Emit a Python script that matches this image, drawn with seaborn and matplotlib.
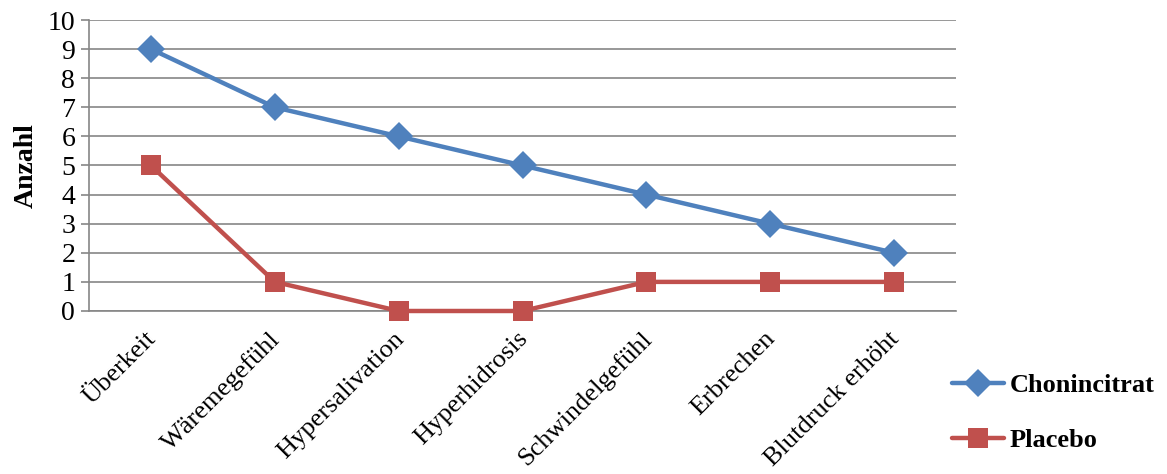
import numpy as np
import pandas as pd
import matplotlib
matplotlib.use("Agg")
import matplotlib.pyplot as plt
import matplotlib.transforms as mtransforms
import seaborn as sns

categories = ["Überkeit", "Wäremegefühl", "Hypersalivation", "Hyperhidrosis",
              "Schwindelgefühl", "Erbrechen", "Blutdruck erhöht"]
chonincitrat = [9, 7, 6, 5, 4, 3, 2]
placebo = [5, 1, 0, 0, 1, 1, 1]
series_names = ["Chonincitrat", "Placebo"]
y_ticks = list(range(0, 11))

df = pd.DataFrame({
    "Symptom": categories * 2,
    "Anzahl": chonincitrat + placebo,
    "Gruppe": [series_names[0]] * len(categories) + [series_names[1]] * len(categories),
})

sns.set_theme(style="white")
plt.rcParams["font.family"] = ["Liberation Serif", "DejaVu Serif"]
plt.rcParams["text.color"] = "black"
plt.rcParams["xtick.color"] = "black"
plt.rcParams["ytick.color"] = "black"
plt.rcParams["axes.labelcolor"] = "black"

fig = plt.figure(figsize=(11.67, 4.74), dpi=100)
ax = fig.add_axes([0.0763, 0.3439, 0.7429, 0.6139])

grid_col = "#868686"
palette = {"Chonincitrat": "#4F81BD", "Placebo": "#C0504D"}
markers = {"Chonincitrat": "D", "Placebo": "s"}
marker_sizes = [14, 15]

sns.lineplot(data=df, x="Symptom", y="Anzahl", hue="Gruppe", style="Gruppe",
             palette=palette, markers=markers, dashes=False, sort=False,
             linewidth=3.2, markersize=12, markeredgewidth=0, ax=ax, legend=False,
             zorder=3)
for line, ms in zip(ax.lines, marker_sizes):
    line.set_markersize(ms)
    line.set_clip_on(False)

n = len(categories)
ax.set_xlim(-0.5, n - 0.5)
ax.set_ylim(0, 10)
ax.set_yticks(y_ticks)
ax.set_yticklabels([str(v) for v in y_ticks], fontsize=20)
ax.yaxis.grid(True, color=grid_col, linewidth=1.2)
ax.set_axisbelow(True)

ax.set_xticks(range(n))
ax.set_xticklabels(categories, rotation=45, ha="right", rotation_mode="anchor",
                   fontsize=19)
ax.tick_params(axis="x", which="major", length=0, pad=12)
shift = mtransforms.ScaledTranslation(-6 / 100, 0, fig.dpi_scale_trans)
for lbl in ax.get_xticklabels():
    lbl.set_transform(lbl.get_transform() + shift)
ax.set_xticks(np.arange(-0.5, n, 1.0), minor=True)
ax.tick_params(axis="x", which="minor", length=6, width=1.2, color=grid_col,
               direction="out")
ax.tick_params(axis="y", length=6, width=1.2, color=grid_col, labelcolor="black",
               direction="out", pad=4, left=True)

for side in ["top", "right"]:
    ax.spines[side].set_visible(False)
for side in ["left", "bottom"]:
    ax.spines[side].set_color(grid_col)
    ax.spines[side].set_linewidth(1.2)

ax.set_xlabel("")
ax.set_ylabel("Anzahl", fontsize=20, fontweight="bold", labelpad=6)

handles = [
    plt.Line2D([], [], color=palette[s], marker=markers[s], linewidth=3.2,
               markersize=ms, markeredgewidth=0)
    for s, ms in zip(series_names, marker_sizes)
]
fig.legend(handles, series_names, loc="upper left", bbox_to_anchor=(0.795, 0.262),
           frameon=False, handlelength=2.0, handletextpad=0.2, labelspacing=1.2,
           prop={"family": ["Liberation Serif"], "weight": "bold", "size": 19})

fig.savefig("out.png", dpi=100)
